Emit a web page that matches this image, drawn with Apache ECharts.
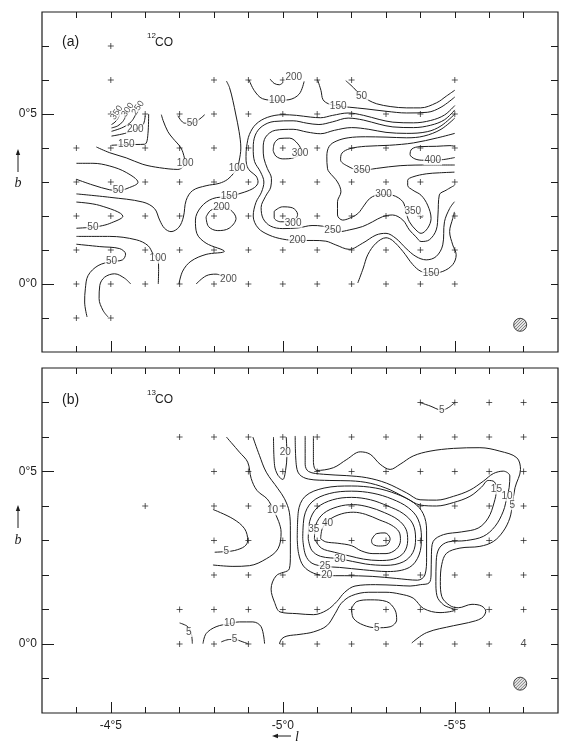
<!DOCTYPE html>
<html><head><meta charset="utf-8">
<script src="https://cdn.jsdelivr.net/npm/echarts@6/dist/echarts.min.js"></script>
<style>html,body{margin:0;padding:0;background:#fff}#c{width:570px;height:746px}</style>
</head><body><div id="c"></div>
<script>
// ---------- axes ----------
const lTicks = [-5.7,-5.6,-5.5,-5.4,-5.3,-5.2,-5.1,-5.0,-4.9,-4.8,-4.7,-4.6,-4.5,-4.4];
const lMajor = [-5.5,-5.0,-4.5];
const bTicks = [-0.1,0,0.1,0.2,0.3,0.4,0.5,0.6,0.7];
const bMajor = [0,0.5];

// ---------- panel (a) 12CO : observed positions (rows of b with l list) ----------
const aCrossRows = [
  [0.7, [-4.5]],
  [0.6, [-4.5,-4.8,-4.9,-5.0,-5.1,-5.2,-5.5]],
  [0.5, [-4.5,-4.6,-4.7,-4.8,-4.9,-5.0,-5.1,-5.2,-5.3,-5.4,-5.5]],
  [0.4, [-4.4,-4.5,-4.6,-4.7,-4.8,-4.9,-5.0,-5.1,-5.2,-5.3,-5.4,-5.5]],
  [0.3, [-4.4,-4.5,-4.6,-4.7,-4.8,-4.9,-5.0,-5.1,-5.2,-5.3,-5.4,-5.5]],
  [0.2, [-4.4,-4.5,-4.6,-4.7,-4.8,-4.9,-5.0,-5.1,-5.2,-5.3,-5.4,-5.5]],
  [0.1, [-4.4,-4.5,-4.6,-4.7,-4.8,-4.9,-5.0,-5.1,-5.2,-5.3,-5.4,-5.5]],
  [0.0, [-4.4,-4.5,-4.6,-4.7,-4.8,-4.9,-5.0,-5.1,-5.2,-5.3,-5.4,-5.5]],
  [-0.1,[-4.4,-4.5]]
];

// contours of panel (a), [l, b]
const a_350s = [[-4.502,0.469],[-4.512,0.476],[-4.521,0.488],[-4.526,0.500]];
const a_300s = [[-4.502,0.459],[-4.520,0.465],[-4.535,0.478],[-4.545,0.497]];
const a_250s = [[-4.502,0.449],[-4.536,0.461],[-4.560,0.478],[-4.573,0.500]];
const a_200s = [[-4.502,0.435],[-4.545,0.444],[-4.574,0.456],[-4.594,0.469],[-4.600,0.495]];
const a_150s = [[-4.502,0.408],[-4.545,0.410],[-4.598,0.411],[-4.608,0.442],[-4.610,0.500]];
const a_100a = [[-4.458,0.403],[-4.497,0.386],[-4.545,0.371],[-4.593,0.352],[-4.642,0.342],[-4.695,0.337],[-4.716,0.355],[-4.714,0.371],[-4.704,0.400],[-4.680,0.429],[-4.666,0.448],[-4.652,0.481],[-4.647,0.498]];
const a_50a = [[-4.695,0.495],[-4.715,0.473],[-4.737,0.473],[-4.758,0.485],[-4.773,0.498]];
const a_50b = [[-4.400,0.355],[-4.448,0.355],[-4.497,0.347],[-4.545,0.328],[-4.579,0.299],[-4.550,0.282],[-4.522,0.275],[-4.497,0.277],[-4.448,0.291],[-4.400,0.308]];
const a_100b = [[-4.400,0.265],[-4.497,0.255],[-4.593,0.241],[-4.627,0.222],[-4.642,0.188],[-4.656,0.164],[-4.675,0.154],[-4.698,0.167],[-4.711,0.197],[-4.719,0.246],[-4.738,0.275],[-4.777,0.289],[-4.815,0.296],[-4.840,0.308],[-4.859,0.328],[-4.867,0.339],[-4.873,0.361],[-4.878,0.400],[-4.873,0.448],[-4.863,0.500],[-4.855,0.539],[-4.845,0.578],[-4.836,0.597]];
const a_50c = [[-4.400,0.241],[-4.468,0.231],[-4.535,0.199],[-4.497,0.178],[-4.468,0.170],[-4.448,0.167],[-4.400,0.164]];
const a_100c = [[-4.400,0.140],[-4.497,0.140],[-4.574,0.130],[-4.608,0.113],[-4.624,0.087],[-4.637,0.075],[-4.639,0.043],[-4.638,0.000]];
const a_50d = [[-4.400,0.117],[-4.468,0.110],[-4.526,0.104],[-4.543,0.088],[-4.534,0.071],[-4.502,0.066],[-4.463,0.054],[-4.434,0.025],[-4.426,-0.014],[-4.424,-0.053],[-4.431,-0.097]];
const a_low = [[-4.558,0.000],[-4.540,0.017],[-4.511,0.030],[-4.482,0.020],[-4.468,-0.004],[-4.466,-0.043],[-4.477,-0.077],[-4.492,-0.097]];
const a_150b = [[-4.698,0.000],[-4.709,0.038],[-4.733,0.067],[-4.777,0.087],[-4.830,0.096],[-4.777,0.120],[-4.750,0.149],[-4.746,0.188],[-4.762,0.226],[-4.796,0.251],[-4.844,0.258],[-4.888,0.270],[-4.918,0.284],[-4.928,0.300],[-4.922,0.318],[-4.905,0.332],[-4.895,0.350],[-4.893,0.375],[-4.895,0.405],[-4.903,0.440],[-4.922,0.470],[-4.955,0.490],[-5.000,0.498],[-5.040,0.496],[-5.080,0.491],[-5.110,0.489],[-5.145,0.496],[-5.190,0.503],[-5.235,0.496],[-5.280,0.484],[-5.320,0.476],[-5.380,0.474],[-5.430,0.481],[-5.470,0.497],[-5.500,0.525]];
const a_200r = [[-4.777,0.197],[-4.784,0.169],[-4.811,0.157],[-4.844,0.164],[-4.864,0.193],[-4.849,0.217],[-4.822,0.225],[-4.791,0.217],[-4.777,0.197]];
const a_200b = [[-4.748,0.000],[-4.777,0.024],[-4.806,0.029],[-4.830,0.020]];
const a_100t = [[-4.902,0.600],[-4.917,0.569],[-4.941,0.545],[-4.984,0.540],[-5.018,0.542],[-5.048,0.559],[-5.062,0.596]];
const a_200t = [[-4.963,0.603],[-4.975,0.590],[-4.990,0.586],[-5.000,0.592]];
const a_150t = [[-5.101,0.601],[-5.111,0.569],[-5.117,0.542],[-5.133,0.530],[-5.161,0.523],[-5.193,0.520],[-5.242,0.515],[-5.300,0.508],[-5.360,0.503],[-5.420,0.505],[-5.460,0.520],[-5.500,0.550]];
const a_50t = [[-5.183,0.598],[-5.205,0.578],[-5.229,0.553],[-5.250,0.540],[-5.273,0.530],[-5.312,0.522],[-5.360,0.518],[-5.400,0.518],[-5.447,0.533],[-5.476,0.553],[-5.500,0.570]];
const a_200 = [[-5.499,0.242],[-5.485,0.222],[-5.470,0.183],[-5.465,0.115],[-5.446,0.081],[-5.417,0.071],[-5.387,0.081],[-5.358,0.105],[-5.329,0.134],[-5.300,0.149],[-5.271,0.144],[-5.232,0.120],[-5.193,0.102],[-5.154,0.115],[-5.125,0.126],[-5.090,0.128],[-5.043,0.128],[-5.000,0.132],[-4.960,0.144],[-4.928,0.165],[-4.914,0.200],[-4.922,0.240],[-4.938,0.270],[-4.945,0.300],[-4.935,0.330],[-4.918,0.360],[-4.914,0.400],[-4.920,0.438],[-4.940,0.464],[-4.975,0.478],[-5.030,0.480],[-5.070,0.473],[-5.105,0.469],[-5.145,0.477],[-5.190,0.488],[-5.235,0.482],[-5.280,0.470],[-5.320,0.462],[-5.380,0.460],[-5.430,0.467],[-5.470,0.483],[-5.500,0.512]];
const a_250 = [[-5.499,0.290],[-5.475,0.276],[-5.455,0.262],[-5.451,0.203],[-5.446,0.159],[-5.426,0.130],[-5.402,0.125],[-5.387,0.139],[-5.368,0.159],[-5.349,0.188],[-5.319,0.203],[-5.290,0.198],[-5.261,0.183],[-5.232,0.169],[-5.193,0.159],[-5.164,0.154],[-5.145,0.158],[-5.116,0.170],[-5.085,0.172],[-5.045,0.165],[-5.000,0.163],[-4.965,0.170],[-4.943,0.192],[-4.937,0.225],[-4.950,0.258],[-4.965,0.285],[-4.967,0.310],[-4.955,0.340],[-4.945,0.370],[-4.943,0.400],[-4.950,0.432],[-4.978,0.452],[-5.030,0.455],[-5.070,0.447],[-5.110,0.442],[-5.150,0.452],[-5.200,0.460],[-5.250,0.455],[-5.300,0.446],[-5.360,0.443],[-5.420,0.448],[-5.460,0.465],[-5.500,0.500]];
const a_300u = [[-4.972,0.392],[-4.976,0.415],[-4.992,0.428],[-5.020,0.429],[-5.044,0.412],[-5.054,0.390],[-5.034,0.372],[-5.000,0.368],[-4.980,0.376],[-4.972,0.392]];
const a_300l = [[-4.975,0.214],[-4.999,0.227],[-5.028,0.224],[-5.043,0.205],[-5.038,0.193],[-5.018,0.183],[-4.994,0.183],[-4.975,0.195],[-4.975,0.214]];
const a_300 = [[-5.500,0.488],[-5.460,0.455],[-5.410,0.435],[-5.360,0.430],[-5.300,0.432],[-5.240,0.433],[-5.190,0.430],[-5.155,0.420],[-5.135,0.405],[-5.128,0.376],[-5.130,0.339],[-5.135,0.329],[-5.159,0.300],[-5.169,0.271],[-5.159,0.242],[-5.159,0.203],[-5.174,0.188],[-5.193,0.193],[-5.218,0.207],[-5.237,0.232],[-5.252,0.251],[-5.271,0.261],[-5.293,0.263],[-5.319,0.261],[-5.349,0.242],[-5.358,0.212],[-5.368,0.183],[-5.387,0.159],[-5.402,0.149],[-5.421,0.164],[-5.431,0.193],[-5.421,0.232],[-5.402,0.261],[-5.378,0.276],[-5.363,0.290],[-5.363,0.305],[-5.378,0.315],[-5.417,0.324],[-5.455,0.327],[-5.499,0.329]];
const a_350 = [[-5.500,0.443],[-5.450,0.430],[-5.380,0.415],[-5.310,0.408],[-5.240,0.405],[-5.195,0.398],[-5.172,0.385],[-5.168,0.365],[-5.186,0.348],[-5.225,0.334],[-5.273,0.340],[-5.341,0.348],[-5.428,0.350],[-5.500,0.350]];
const a_400 = [[-5.500,0.372],[-5.467,0.366],[-5.433,0.364],[-5.409,0.364],[-5.384,0.368],[-5.370,0.381],[-5.375,0.397],[-5.399,0.404],[-5.447,0.405],[-5.486,0.407],[-5.500,0.405]];
const a_350p = [[-5.390,0.210],[-5.398,0.200],[-5.406,0.196]];
const a_150r = [[-5.218,0.003],[-5.234,0.047],[-5.247,0.086],[-5.271,0.120],[-5.300,0.136],[-5.319,0.128],[-5.349,0.096],[-5.378,0.057],[-5.402,0.037],[-5.431,0.032],[-5.465,0.037],[-5.494,0.057],[-5.504,0.086],[-5.494,0.115],[-5.485,0.154],[-5.494,0.193],[-5.499,0.212]];

const aLabels = [
  [-4.545,0.411,'150'],[-4.571,0.455,'200'],[-4.716,0.355,'100'],[-4.737,0.473,'50'],
  [-4.522,0.275,'50'],[-4.867,0.339,'100'],[-4.448,0.167,'50'],[-4.637,0.075,'100'],
  [-4.502,0.066,'50'],[-4.844,0.258,'150'],[-4.822,0.226,'200'],[-4.842,0.014,'200'],
  [-4.984,0.540,'100'],[-5.032,0.609,'200'],[-5.161,0.523,'150'],[-5.229,0.553,'50'],
  [-5.050,0.385,'300'],[-5.030,0.180,'300'],[-5.043,0.128,'200'],[-5.145,0.158,'250'],
  [-5.293,0.263,'300'],[-5.230,0.334,'350'],[-5.436,0.364,'400'],[-5.378,0.214,'350'],
  [-5.431,0.032,'150']
];
const aLabelsTilted = [[-4.517,0.504,'350'],[-4.549,0.512,'300'],[-4.579,0.518,'250']];
const aBeam = [[-5.69,-0.12]];

// ---------- panel (b) 13CO ----------
const bCrossRows = [
  [0.7, [-5.4,-5.5,-5.6,-5.7]],
  [0.6, [-4.7,-4.8,-4.9,-5.0,-5.1,-5.2,-5.3,-5.4,-5.5,-5.6,-5.7]],
  [0.5, [-4.8,-4.9,-5.0,-5.1,-5.2,-5.3,-5.4,-5.5,-5.6,-5.7]],
  [0.4, [-4.6,-4.8,-4.9,-5.0,-5.1,-5.2,-5.3,-5.4,-5.5,-5.6,-5.7]],
  [0.3, [-4.8,-4.9,-5.0,-5.1,-5.2,-5.3,-5.4,-5.5,-5.6,-5.7]],
  [0.2, [-4.8,-4.9,-5.0,-5.1,-5.2,-5.3,-5.4,-5.5,-5.6,-5.7]],
  [0.1, [-4.7,-4.8,-4.9,-5.0,-5.1,-5.2,-5.3,-5.4,-5.5,-5.6,-5.7]],
  [0.0, [-4.7,-4.8,-4.9,-5.0,-5.1,-5.2,-5.3,-5.4,-5.5,-5.6]]
];
const b_5t = [[-5.399,0.700],[-5.428,0.690],[-5.462,0.678],[-5.481,0.685],[-5.500,0.700]];
const b_20t = [[-4.973,0.600],[-4.976,0.518],[-4.986,0.489],[-5.000,0.477],[-5.008,0.503],[-5.012,0.547],[-5.010,0.600]];
const b_10a = [[-4.836,0.600],[-4.874,0.556],[-4.898,0.527],[-4.908,0.480],[-4.925,0.445],[-4.955,0.420],[-4.972,0.390],[-4.988,0.355],[-4.995,0.324],[-4.986,0.276],[-4.952,0.247],[-4.903,0.227],[-4.855,0.225],[-4.797,0.229]];
const b_5a = [[-4.797,0.390],[-4.855,0.363],[-4.889,0.334],[-4.898,0.300],[-4.889,0.283],[-4.860,0.271],[-4.836,0.268],[-4.802,0.266]];
const b_10b = [[-4.768,0.001],[-4.777,0.030],[-4.806,0.050],[-4.845,0.059],[-4.874,0.064],[-4.913,0.064],[-4.937,0.050],[-4.947,0.001]];
const b_5b = [[-4.821,0.006],[-4.845,0.013],[-4.860,0.013],[-4.884,0.006],[-4.898,0.001]];
const b_5c = [[-4.700,0.061],[-4.724,0.050],[-4.734,0.030],[-4.737,0.001]];
const b_5r = [[-5.200,0.103],[-5.215,0.123],[-5.254,0.128],[-5.302,0.123],[-5.326,0.099],[-5.331,0.070],[-5.312,0.050],[-5.273,0.047],[-5.234,0.055],[-5.205,0.075],[-5.200,0.103]];
const b_45 = [[-5.258,0.302],[-5.273,0.320],[-5.297,0.322],[-5.312,0.305],[-5.302,0.287],[-5.278,0.284],[-5.260,0.291],[-5.258,0.302]];
const b_40 = [[-5.110,0.305],[-5.115,0.335],[-5.135,0.360],[-5.170,0.377],[-5.205,0.382],[-5.240,0.376],[-5.280,0.360],[-5.315,0.345],[-5.338,0.325],[-5.342,0.300],[-5.330,0.275],[-5.300,0.262],[-5.262,0.262],[-5.228,0.270],[-5.200,0.285],[-5.160,0.292],[-5.125,0.296],[-5.110,0.305]];
const b_35 = [[-5.092,0.305],[-5.096,0.345],[-5.118,0.378],[-5.160,0.398],[-5.205,0.404],[-5.250,0.397],[-5.295,0.381],[-5.335,0.360],[-5.358,0.333],[-5.363,0.300],[-5.352,0.265],[-5.322,0.246],[-5.280,0.242],[-5.235,0.246],[-5.195,0.255],[-5.150,0.266],[-5.112,0.278],[-5.092,0.305]];
const b_30 = [[-5.074,0.305],[-5.078,0.355],[-5.100,0.395],[-5.145,0.418],[-5.200,0.425],[-5.255,0.418],[-5.305,0.400],[-5.350,0.378],[-5.378,0.348],[-5.386,0.305],[-5.378,0.265],[-5.350,0.238],[-5.300,0.228],[-5.240,0.232],[-5.166,0.247],[-5.110,0.254],[-5.084,0.272],[-5.074,0.305]];
const b_25 = [[-5.058,0.305],[-5.062,0.368],[-5.085,0.412],[-5.135,0.436],[-5.200,0.443],[-5.262,0.437],[-5.318,0.420],[-5.365,0.395],[-5.393,0.362],[-5.403,0.310],[-5.396,0.258],[-5.368,0.222],[-5.305,0.210],[-5.235,0.215],[-5.165,0.222],[-5.123,0.225],[-5.085,0.234],[-5.066,0.258],[-5.058,0.305]];
const b_20 = [[-5.042,0.305],[-5.045,0.383],[-5.065,0.428],[-5.120,0.452],[-5.200,0.458],[-5.270,0.452],[-5.330,0.435],[-5.380,0.410],[-5.408,0.378],[-5.418,0.330],[-5.418,0.250],[-5.413,0.200],[-5.392,0.185],[-5.330,0.190],[-5.260,0.196],[-5.180,0.198],[-5.128,0.198],[-5.090,0.205],[-5.060,0.226],[-5.046,0.262],[-5.042,0.305]];
const b_15 = [[-5.036,0.603],[-5.039,0.521],[-5.048,0.492],[-5.075,0.478],[-5.137,0.474],[-5.196,0.473],[-5.254,0.466],[-5.312,0.447],[-5.360,0.422],[-5.399,0.403],[-5.447,0.400],[-5.496,0.410],[-5.544,0.428],[-5.578,0.455],[-5.597,0.474],[-5.615,0.470],[-5.621,0.448],[-5.614,0.409],[-5.597,0.365],[-5.568,0.336],[-5.520,0.325],[-5.467,0.317],[-5.437,0.297],[-5.432,0.259],[-5.431,0.200],[-5.425,0.177],[-5.400,0.172],[-5.370,0.168],[-5.330,0.170],[-5.270,0.172],[-5.210,0.168],[-5.180,0.150],[-5.157,0.123],[-5.128,0.098],[-5.089,0.085],[-5.041,0.088],[-4.992,0.093],[-4.976,0.121],[-4.966,0.159],[-4.981,0.198],[-5.019,0.218],[-5.022,0.260],[-5.022,0.330],[-5.019,0.382],[-5.005,0.421],[-4.986,0.450],[-4.952,0.498],[-4.932,0.547],[-4.913,0.600]];
const b_10 = [[-5.065,0.603],[-5.065,0.521],[-5.075,0.500],[-5.118,0.492],[-5.186,0.488],[-5.244,0.482],[-5.302,0.466],[-5.360,0.438],[-5.399,0.418],[-5.447,0.417],[-5.496,0.428],[-5.544,0.446],[-5.583,0.472],[-5.612,0.494],[-5.641,0.501],[-5.660,0.487],[-5.658,0.453],[-5.652,0.428],[-5.641,0.385],[-5.617,0.341],[-5.583,0.312],[-5.534,0.300],[-5.481,0.296],[-5.455,0.278],[-5.446,0.240],[-5.445,0.181],[-5.448,0.140],[-5.468,0.113],[-5.500,0.099],[-5.457,0.091],[-5.409,0.103],[-5.379,0.133],[-5.340,0.145],[-5.300,0.150],[-5.250,0.150],[-5.200,0.140],[-5.170,0.118],[-5.152,0.088],[-5.128,0.053],[-5.089,0.035],[-5.050,0.028],[-5.012,0.023],[-4.997,0.015],[-4.990,0.000]];
const b_5 = [[-5.089,0.603],[-5.089,0.530],[-5.099,0.503],[-5.147,0.511],[-5.186,0.535],[-5.225,0.557],[-5.254,0.550],[-5.283,0.521],[-5.312,0.506],[-5.341,0.521],[-5.379,0.545],[-5.428,0.559],[-5.496,0.567],[-5.573,0.569],[-5.631,0.559],[-5.680,0.540],[-5.691,0.506],[-5.675,0.453],[-5.667,0.402],[-5.660,0.365],[-5.641,0.327],[-5.612,0.297],[-5.573,0.283],[-5.515,0.278],[-5.476,0.263],[-5.462,0.230],[-5.458,0.181],[-5.462,0.138],[-5.485,0.112],[-5.510,0.105],[-5.550,0.115],[-5.578,0.110],[-5.590,0.095],[-5.578,0.075],[-5.540,0.062],[-5.496,0.053],[-5.418,0.033],[-5.375,0.003]];

const bLabels = [
  [-5.462,0.678,'5'],[-5.007,0.556,'20'],[-4.970,0.388,'10'],[-4.836,0.268,'5'],
  [-4.845,0.059,'10'],[-4.860,0.013,'5'],[-4.727,0.035,'5'],[-5.273,0.047,'5'],
  [-5.130,0.349,'40'],[-5.090,0.332,'35'],[-5.166,0.247,'30'],[-5.123,0.225,'25'],
  [-5.128,0.198,'20'],[-5.621,0.448,'15'],[-5.652,0.428,'10'],[-5.667,0.402,'5']
];
const bMarks = [[-5.7,0.0,'4']];
const bBeam = [[-5.69,-0.115]];

const aContours = [a_350s,a_300s,a_250s,a_200s,a_150s,a_100a,a_50a,a_50b,a_100b,a_50c,a_100c,a_50d,a_low,a_150b,a_200r,a_200b,a_100t,a_200t,a_150t,a_50t,a_200,a_250,a_300u,a_300l,a_300,a_350,a_400,a_350p,a_150r];
const bContours = [b_5t,b_20t,b_10a,b_5a,b_10b,b_5b,b_5c,b_5r,b_45,b_40,b_35,b_30,b_25,b_20,b_15,b_10,b_5];

// ---------- build ----------
const INK = '#1c1c1c';
const FONT = 'Liberation Sans, Arial, sans-serif';
const BEAM_SIZE = 13;
const degFmt = v => { const s = Math.abs(v).toFixed(1).split('.'); return (v < 0 ? '-' : '') + s[0] + '\u00b0' + s[1]; };

// hatch pattern for the beam symbol (symbols are drawn at unit size and scaled, so the pattern is pre-shrunk)
const hatch = document.createElement('canvas');
hatch.width = 3; hatch.height = 3;
(function () {
  const c = hatch.getContext('2d');
  c.fillStyle = '#ffffff'; c.fillRect(0, 0, 3, 3);
  c.fillStyle = '#2a2a2a';
  c.fillRect(0, 2, 1, 1); c.fillRect(1, 1, 1, 1); c.fillRect(2, 0, 1, 1);
})();
const hatchScale = 2 / BEAM_SIZE;

const grids = [
  {left:42, top:12, width:516, height:340, show:true, borderColor:INK, borderWidth:1.2, backgroundColor:'transparent'},
  {left:42, top:368, width:516, height:345, show:true, borderColor:INK, borderWidth:1.2, backgroundColor:'transparent'}
];
const xAxes = [], yAxes = [];
[0,1].forEach(g => {
  const base = {gridIndex:g, type:'value', min:-5.8, max:-4.3, inverse:true, axisLine:{show:false, onZero:false}, splitLine:{show:false}};
  xAxes.push(Object.assign({}, base, {position:'bottom', axisTick:{show:true, inside:true, length:6, customValues:lTicks, lineStyle:{color:INK}}, axisLabel:{show:false}}));
  xAxes.push(Object.assign({}, base, {position:'top', axisTick:{show:true, inside:true, length:6, customValues:lTicks, lineStyle:{color:INK}}, axisLabel:{show:false}}));
  xAxes.push(Object.assign({}, base, {position:'bottom', axisTick:{show:true, inside:true, length:11, customValues:lMajor, lineStyle:{color:INK}},
    axisLabel:{show: g === 1, customValues:lMajor, formatter:degFmt, margin:7, fontSize:12, color:INK, fontFamily:FONT}}));
  const yb = {gridIndex:g, type:'value', min:-0.2, max:0.8, axisLine:{show:false, onZero:false}, splitLine:{show:false}};
  yAxes.push(Object.assign({}, yb, {position:'left', axisTick:{show:true, inside:true, length:7, customValues:bTicks, lineStyle:{color:INK}}, axisLabel:{show:false}}));
  yAxes.push(Object.assign({}, yb, {position:'right', axisTick:{show:true, inside:true, length:7, customValues:bTicks, lineStyle:{color:INK}}, axisLabel:{show:false}}));
  yAxes.push(Object.assign({}, yb, {position:'left', axisTick:{show:true, inside:true, length:12, customValues:bMajor, lineStyle:{color:INK}},
    axisLabel:{show:true, customValues:bMajor, formatter:degFmt, margin:5, fontSize:12, color:INK, fontFamily:FONT}}));
});

const series = [];
function addPanel(g, contours, crossRows, labels, beam) {
  const xi = g * 3, yi = g * 3;
  contours.forEach(d => series.push({type:'line', xAxisIndex:xi, yAxisIndex:yi, data:d, smooth:0.35,
    symbol:'none', showSymbol:false, lineStyle:{color:INK, width:1}, silent:true, z:2, animation:false}));
  const pts = [];
  crossRows.forEach(([b, ls]) => ls.forEach(l => pts.push([l, b])));
  series.push({type:'scatter', xAxisIndex:xi, yAxisIndex:yi, data:pts, symbol:'path://M0,5L10,5M5,0L5,10',
    symbolSize:6, itemStyle:{color:'rgba(0,0,0,0)', borderColor:INK, borderWidth:0.9}, silent:true, z:3, animation:false});
  series.push({type:'scatter', xAxisIndex:xi, yAxisIndex:yi, data:labels, symbolSize:1,
    itemStyle:{color:'rgba(0,0,0,0)'}, silent:true, z:5, animation:false,
    label:{show:true, position:'inside', formatter:p => p.value[2], fontSize:10, fontFamily:FONT, color:INK,
      backgroundColor:'#fff', padding:[0,1], lineHeight:10}});
  series.push({type:'scatter', xAxisIndex:xi, yAxisIndex:yi, data:beam, symbol:'circle', symbolSize:BEAM_SIZE,
    itemStyle:{color:{image:hatch, repeat:'repeat', scaleX:hatchScale, scaleY:hatchScale}, borderColor:INK, borderWidth:1},
    silent:true, z:3, animation:false});
}
addPanel(0, aContours, aCrossRows, aLabels, aBeam);
addPanel(1, bContours, bCrossRows, bLabels, bBeam);
series.push({type:'scatter', xAxisIndex:0, yAxisIndex:0, data:aLabelsTilted, symbolSize:1,
  itemStyle:{color:'rgba(0,0,0,0)'}, silent:true, z:5, animation:false,
  label:{show:true, position:'inside', rotate:55, formatter:p => p.value[2], fontSize:9, fontFamily:FONT, color:INK,
    backgroundColor:'#fff', padding:[0,0], lineHeight:9}});
series.push({type:'scatter', xAxisIndex:3, yAxisIndex:3, data:bMarks, symbolSize:1,
  itemStyle:{color:'rgba(0,0,0,0)'}, silent:true, z:5, animation:false,
  label:{show:true, position:'inside', formatter:p => p.value[2], fontSize:11, fontFamily:FONT, color:INK}});

const txt = (x, y, s, size, extra) => ({type:'text', x, y, silent:true,
  style:Object.assign({text:s, fontSize:size, fontFamily:FONT, fill:INK, textAlign:'left', textVerticalAlign:'middle'}, extra || {})});
const arrowUp = (x, yTop, yBot) => [
  {type:'line', silent:true, shape:{x1:x, y1:yBot, x2:x, y2:yTop + 4}, style:{stroke:INK, lineWidth:1}},
  {type:'polygon', silent:true, shape:{points:[[x, yTop], [x - 2.2, yTop + 6], [x + 2.2, yTop + 6]]}, style:{fill:INK}}
];
const graphic = [
  txt(62, 42, '(a)', 14), txt(147, 36, '12', 8), txt(155, 43, 'CO', 12),
  txt(62, 400, '(b)', 14), txt(147, 393, '13', 8), txt(155, 400, 'CO', 12),
  ...arrowUp(18, 149, 172), txt(18, 183, 'b', 14, {textAlign:'center', fontStyle:'italic', fontFamily:'Liberation Serif, serif'}),
  ...arrowUp(18, 505, 528), txt(18, 540, 'b', 14, {textAlign:'center', fontStyle:'italic', fontFamily:'Liberation Serif, serif'}),
  {type:'line', silent:true, shape:{x1:276, y1:736, x2:291, y2:736}, style:{stroke:INK, lineWidth:1}},
  {type:'polygon', silent:true, shape:{points:[[272, 736], [278, 733.8], [278, 738.2]]}, style:{fill:INK}},
  txt(295, 737, 'l', 14, {fontStyle:'italic', fontFamily:'Liberation Serif, serif'})
];

const chart = echarts.init(document.getElementById('c'), null, {renderer:'canvas'});
chart.setOption({animation:false, backgroundColor:'#fff', grid:grids, xAxis:xAxes, yAxis:yAxes, series, graphic});
</script></body></html>
